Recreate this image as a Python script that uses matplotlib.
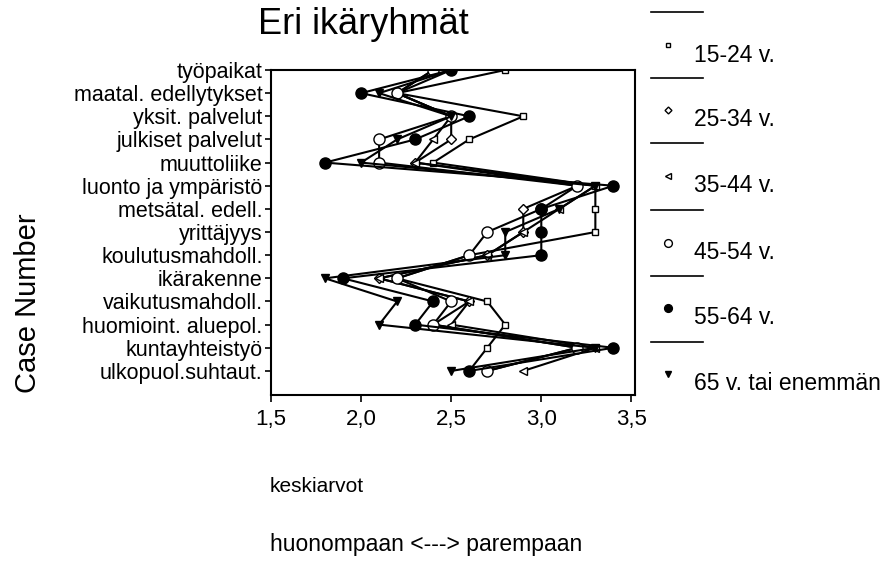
import matplotlib
matplotlib.use("Agg")
import matplotlib.pyplot as plt
from matplotlib.lines import Line2D

plt.rcParams['font.family'] = ['Liberation Sans', 'DejaVu Sans']

# categories, top to bottom
categories = ["työpaikat", "maatal. edellytykset", "yksit. palvelut", "julkiset palvelut",
              "muuttoliike", "luonto ja ympäristö", "metsätal. edell.", "yrittäjyys",
              "koulutusmahdoll.", "ikärakenne", "vaikutusmahdoll.", "huomioint. aluepol.",
              "kuntayhteistyö", "ulkopuol.suhtaut."]

# mean values per age group
age_15_24 = [2.8, 2.2, 2.9, 2.6, 2.4, 3.3, 3.3, 3.3, 2.6, 2.2, 2.7, 2.8, 2.7, 2.6]
age_25_34 = [2.5, 2.2, 2.5, 2.5, 2.3, 3.2, 2.9, 2.9, 2.7, 2.1, 2.6, 2.4, 3.2, 2.7]
age_35_44 = [2.4, 2.2, 2.5, 2.4, 2.3, 3.3, 3.1, 2.9, 2.7, 2.1, 2.6, 2.5, 3.3, 2.9]
age_45_54 = [2.4, 2.2, 2.5, 2.1, 2.1, 3.2, 3.0, 2.7, 2.6, 2.2, 2.5, 2.4, 3.2, 2.7]
age_55_64 = [2.5, 2.0, 2.6, 2.3, 1.8, 3.4, 3.0, 3.0, 3.0, 1.9, 2.4, 2.3, 3.4, 2.6]
age_65 = [2.5, 2.1, 2.5, 2.2, 2.0, 3.3, 3.1, 2.8, 2.8, 1.8, 2.2, 2.1, 3.3, 2.5]

series_labels = ["15-24 v.", "25-34 v.", "35-44 v.", "45-54 v.", "55-64 v.", "65 v. tai enemmän"]
series = [age_15_24, age_25_34, age_35_44, age_45_54, age_55_64, age_65]
markers = ['s', 'D', '<', 'o', 'o', 'v']
marker_sizes = [5, 5, 6, 8, 8, 6]
fills = ['white', 'white', 'white', 'white', 'black', 'black']

fig = plt.figure(figsize=(8.88, 5.62), dpi=100)
ax = fig.add_axes([271 / 888, 1 - 395 / 562, 364 / 888, 325 / 562])

ypos = list(range(len(categories)))
for vals, m, ms, fc in zip(series, markers, marker_sizes, fills):
    ax.plot(vals, ypos, color='black', lw=1.5, marker=m, ms=ms,
            markerfacecolor=fc, markeredgecolor='black', markeredgewidth=1.0)

ax.set_ylim(14.04, 0)
ax.set_xlim(1.5, 3.52)
ax.set_yticks(ypos)
ax.set_yticklabels(categories, fontsize=15.5)
ax.set_xticks([1.5, 2.0, 2.5, 3.0, 3.5])
ax.set_xticklabels(["1,5", "2,0", "2,5", "3,0", "3,5"], fontsize=16)
ax.tick_params(axis='y', length=4, width=1.2, pad=2)
ax.tick_params(axis='x', length=5, width=1.2, pad=5)
for s in ax.spines.values():
    s.set_linewidth(1.5)

fig.text(258 / 888, 1 - 25 / 562, "Eri ikäryhmät", fontsize=26, va='center', ha='left')
fig.text(28 / 888, 1 - 303 / 562, "Case Number", fontsize=21, rotation=90, va='center', ha='center')
fig.text(270 / 888, 1 - 487 / 562, "keskiarvot", fontsize=15, va='center', ha='left')
fig.text(270 / 888, 1 - 545 / 562, "huonompaan <---> parempaan", fontsize=16.5, va='center', ha='left')

# legend: a short line above each marker + label
line_y = [12, 78, 143, 210, 276, 342]
mark_y = [45, 110, 176, 243, 308, 374]
for ly, my, lab, m, ms, fc in zip(line_y, mark_y, series_labels, markers, marker_sizes, fills):
    fig.add_artist(Line2D([651 / 888, 703 / 888], [1 - ly / 562, 1 - ly / 562],
                          color='black', lw=1.2, transform=fig.transFigure))
    fig.add_artist(Line2D([668 / 888], [1 - my / 562], marker=m, ms=ms * 0.7,
                          markerfacecolor=fc, markeredgecolor='black', markeredgewidth=1.0,
                          linestyle='none', transform=fig.transFigure))
    fig.text(694 / 888, 1 - (my + 10) / 562, lab, fontsize=16.5, va='center', ha='left')

fig.savefig("out.png", dpi=100)
